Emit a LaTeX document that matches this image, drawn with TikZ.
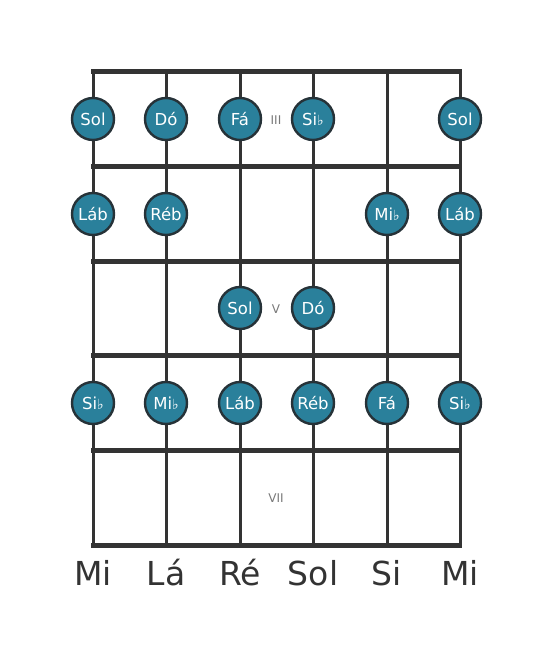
\documentclass[tikz,border=0pt]{standalone}
\usepackage{fontspec}
\setmainfont{DejaVu Sans}
\definecolor{notefill}{RGB}{42,128,155}
\definecolor{noteline}{RGB}{38,50,56}
\definecolor{fretline}{RGB}{51,51,51}
\definecolor{fretnum}{RGB}{120,120,120}
\tikzset{
  note/.style={circle, draw=noteline, line width=2.4bp, fill=notefill,
    minimum size=42bp, inner sep=0pt, text=white, font=\fontsize{16.5bp}{17bp}\selectfont},
  fretno/.style={text=fretnum, font=\fontsize{12bp}{13bp}\selectfont},
  strname/.style={text=fretline, font=\fontsize{33bp}{36bp}\selectfont}
}
\newcommand{\fl}{{\fontsize{14bp}{15bp}\selectfont ♭}}
\begin{document}
\begin{tikzpicture}[x=1bp,y=-1bp]
  \useasboundingbox (0,0) rectangle (553,656);

  % strings
  \draw[fretline, line width=3bp] (93,72) -- (93,545);
  \draw[fretline, line width=3bp] (166,72) -- (166,545);
  \draw[fretline, line width=3bp] (240,72) -- (240,545);
  \draw[fretline, line width=3bp] (313,72) -- (313,545);
  \draw[fretline, line width=3bp] (387,72) -- (387,545);
  \draw[fretline, line width=3bp] (460,72) -- (460,545);

  % frets
  \draw[fretline, line width=5bp] (91,72) -- (462,72);
  \draw[fretline, line width=5bp] (91,166) -- (462,166);
  \draw[fretline, line width=5bp] (91,261) -- (462,261);
  \draw[fretline, line width=5bp] (91,355) -- (462,355);
  \draw[fretline, line width=5bp] (91,450) -- (462,450);
  \draw[fretline, line width=5bp] (91,545) -- (462,545);

  % fret numbers
  \node[fretno] (iii) at (276,120) {III};
  \node[fretno] (v) at (276,309) {V};
  \node[fretno] (vii) at (276,498) {VII};

  % fret III
  \node[note] (sol1) at (93,119) {Sol};
  \node[note] (do1) at (166,119) {Dó};
  \node[note] (fa1) at (240,119) {Fá};
  \node[note] (sib1) at (313,119) {Si\fl};
  \node[note] (sol6) at (460,119) {Sol};

  % fret IV
  \node[note] (lab1) at (93,214) {Láb};
  \node[note] (reb1) at (166,214) {Réb};
  \node[note] (mib5) at (387,214) {Mi\fl};
  \node[note] (lab6) at (460,214) {Láb};

  % fret V
  \node[note] (sol3) at (240,308) {Sol};
  \node[note] (do4) at (313,308) {Dó};

  % fret VI
  \node[note] (sib2) at (93,403) {Si\fl};
  \node[note] (mib2) at (166,403) {Mi\fl};
  \node[note] (lab3) at (240,403) {Láb};
  \node[note] (reb4) at (313,403) {Réb};
  \node[note] (fa5) at (387,403) {Fá};
  \node[note] (sib6) at (460,403) {Si\fl};

  % string names
  \node[strname] (mi1) at (93,573) {Mi};
  \node[strname] (la) at (166,573) {Lá};
  \node[strname] (re) at (240,573) {Ré};
  \node[strname] (sol) at (313,573) {Sol};
  \node[strname] (si) at (387,573) {Si};
  \node[strname] (mi6) at (460,573) {Mi};
\end{tikzpicture}
\end{document}
